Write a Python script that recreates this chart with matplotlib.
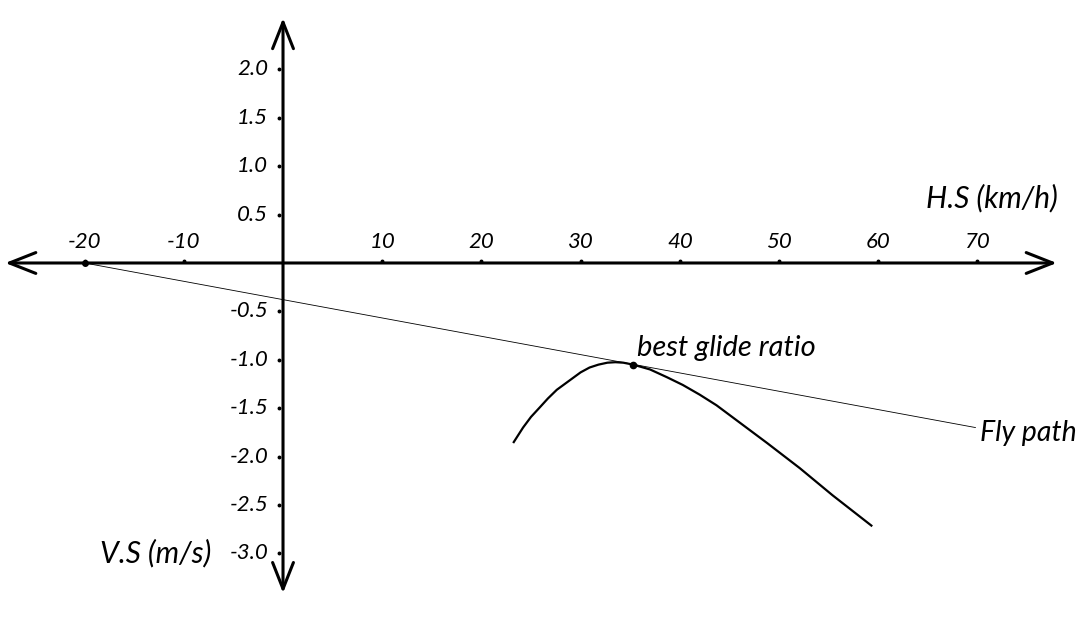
import matplotlib.pyplot as plt

# --- data ---
x_ticks = [-20, -10, 10, 20, 30, 40, 50, 60, 70]
y_ticks = [2.0, 1.5, 1.0, 0.5, -0.5, -1.0, -1.5, -2.0, -2.5, -3.0]

# polar curve: horizontal speed (km/h) vs vertical speed (m/s)
curve_hs = [23.2, 24.2, 25.0, 25.9, 26.7, 27.6, 28.4, 29.2, 30.0, 30.9, 31.8,
            32.7, 33.5, 34.3, 35.3, 37.0, 38.7, 40.3, 42.0, 43.7, 45.4, 48.8,
            52.1, 55.4, 59.4]
curve_vs = [-1.86, -1.70, -1.59, -1.49, -1.40, -1.31, -1.25, -1.19, -1.13,
            -1.08, -1.05, -1.03, -1.025, -1.03, -1.05, -1.10, -1.18, -1.26,
            -1.36, -1.47, -1.60, -1.86, -2.12, -2.40, -2.72]

best_hs, best_vs = 35.3, -1.05
path_hs = [-20, 69.8]
path_vs = [0.0, -1.70]

plt.rcParams["font.family"] = ["Lato", "DejaVu Sans"]

fig = plt.figure(figsize=(10.77, 6.19), dpi=100)
ax = fig.add_axes([0, 0, 1, 1])
ax.set_xlim(-28.53, 80.04)
ax.set_ylim(-3.678, 2.717)
ax.axis("off")

arrow = dict(arrowstyle="<->,head_length=1.9,head_width=0.75", lw=2.2,
             color="black", mutation_scale=10, shrinkA=0, shrinkB=0)
ax.annotate("", xy=(78.0, 0), xytext=(-28.0, 0), arrowprops=arrow)
ax.annotate("", xy=(0, 2.53), xytext=(0, -3.41), arrowprops=arrow)

# tick dots + labels
ax.plot(x_ticks, [0.02] * len(x_ticks), "o", ms=1.8, color="black")
for t in x_ticks:
    ax.text(t, 0.22, f"{t}", ha="center", va="center", fontsize=16,
            style="italic")
ax.plot([-0.4] * len(y_ticks), y_ticks, "o", ms=1.8, color="black")
for t in y_ticks:
    ax.text(-1.5, t, f"{t:.1f}", ha="right", va="center", fontsize=16,
            style="italic")

ax.text(71.5, 0.67, "H.S (km/h)", ha="center", va="center", fontsize=21.5,
        style="italic")
ax.text(-12.8, -3.0, "V.S (m/s)", ha="center", va="center", fontsize=21.5,
        style="italic")

# fly path + polar curve
ax.plot(path_hs, path_vs, color="black", lw=0.6)
ax.plot(path_hs[0], path_vs[0], "o", ms=4, color="black")
ax.plot(curve_hs, curve_vs, color="black", lw=1.6, solid_capstyle="butt")
ax.plot(best_hs, best_vs, "o", ms=4.5, color="black")

ax.text(35.7, -0.88, "best glide ratio", ha="left", va="center", fontsize=21,
        style="italic")
ax.text(70.3, -1.76, "Fly path", ha="left", va="center", fontsize=20.5,
        style="italic")

fig.savefig("out.png", dpi=100)
